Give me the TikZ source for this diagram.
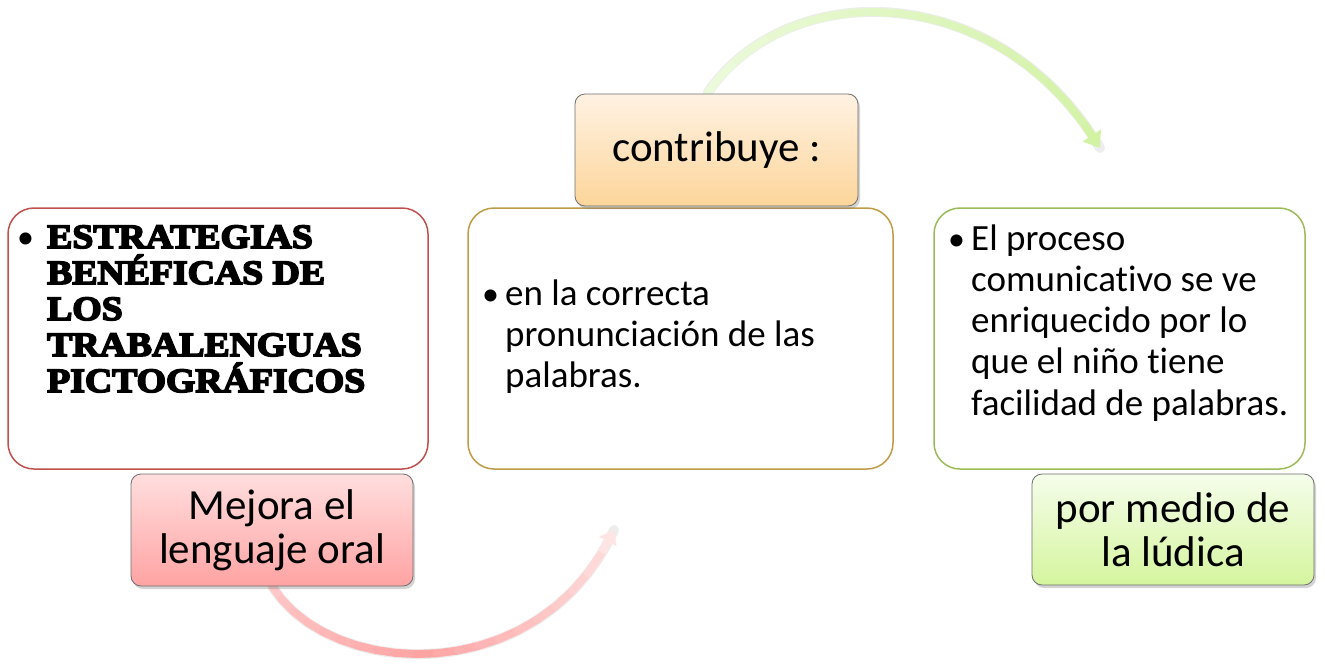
\documentclass[tikz,border=0pt]{standalone}
\usepackage{fontspec}
\setmainfont{Carlito}[Ligatures=NoCommon]
\newfontfamily\titlefont{Liberation Serif}[BoldFeatures={FakeBold=5,FakeStretch=1.11}]
\usetikzlibrary{shadows,arrows.meta}
\definecolor{redB}{HTML}{C0504D}
\definecolor{goldB}{HTML}{BF9B45}
\definecolor{greenB}{HTML}{9BBB59}
\definecolor{pinkT}{HTML}{FFDEDE}
\definecolor{pinkD}{HTML}{FFA3A3}
\definecolor{pinkL}{HTML}{FFE4E4}
\definecolor{peachT}{HTML}{FFF2E2}
\definecolor{peachD}{HTML}{FCD59A}
\definecolor{limeT}{HTML}{F5FDEA}
\definecolor{limeD}{HTML}{D5F59E}
\definecolor{greenL}{HTML}{ECFADC}
\definecolor{greenD}{HTML}{D2F2A4}
\definecolor{edgeG}{HTML}{6E6E6E}
\tikzset{
  natspace/.style={execute at begin node={\spaceskip=0pt\xspaceskip=0pt\relax}},
  bigbox/.style={draw, line width=1.5pt, rounded corners=26pt, fill=white, inner sep=0pt},
  labelbox/.style={draw=edgeG, line width=0.8pt, rounded corners=10pt, inner sep=0pt,
    drop shadow={opacity=0.35, shadow xshift=2pt, shadow yshift=-3pt},
    font=\fontsize{43pt}{44pt}\selectfont, align=center, natspace},
  bodytext/.style={anchor=base west, inner sep=0pt, align=left, natspace,
    font=\fontsize{37pt}{41.3pt}\selectfont},
  bulletmark/.style={anchor=base west, inner sep=0pt, font=\fontsize{34pt}{41pt}\selectfont},
  arcline/.style={line width=8pt, line cap=round},
  arcshadow/.style={line width=10pt, line cap=round, black, opacity=0.07}
}
\begin{document}
\begin{tikzpicture}[x=1pt,y=-1pt]
\useasboundingbox (0,0) rectangle (1325,665);

% ---- curved arrows (drawn first, under the boxes)
\coordinate (r0) at (272,586);
\coordinate (r1) at (330,680);
\coordinate (r2) at (540,690);
\coordinate (r3) at (614,530);
\coordinate (g0) at (708,92);
\coordinate (g1) at (790,-25);
\coordinate (g2) at (1000,-20);
\coordinate (g3) at (1100,148);

\draw[arcshadow, xshift=2pt, yshift=-3pt] (r0) .. controls (r1) and (r2) .. (r3);
\draw[arcshadow, xshift=2pt, yshift=-3pt] (g0) .. controls (g1) and (g2) .. (g3);

\foreach \i in {0,...,20}{
  \path (r0) .. controls (r1) and (r2) .. (r3) coordinate[pos=\i/20] (rp\i);
  \path (g0) .. controls (g1) and (g2) .. (g3) coordinate[pos=\i/20] (gp\i);
}
\foreach \i in {0,...,18}{
  \pgfmathtruncatemacro\j{\i+1}
  \pgfmathtruncatemacro\L{\i<=9 ? 55*(9-\i)/9 : 100*(\i-9)/11}
  \pgfmathtruncatemacro\G{100-100*\i/20}
  \draw[arcline, color=pinkL!\L!pinkD] (rp\i) -- (rp\j);
  \draw[arcline, color=greenL!\G!greenD] (gp\i) -- (gp\j);
}
\draw[arcline, line cap=butt, color=pinkL, -{Triangle[width=19pt,length=13pt]}] (rp19) -- (rp20);
\draw[arcline, line cap=butt, color=greenD, -{Triangle[width=21pt,length=15pt]}] (gp19) -- (gp20);

% ---- big boxes
\node[bigbox, draw=redB, minimum width=420pt, minimum height=261pt] (lbox) at (218,338.5) {};
\node[bigbox, draw=goldB, minimum width=425pt, minimum height=261pt] (mbox) at (680.5,338.5) {};
\node[bigbox, draw=greenB, minimum width=371pt, minimum height=261pt] (rbox) at (1119.5,338.5) {};

% ---- label boxes
\node[labelbox, top color=pinkT, bottom color=pinkD, minimum width=282pt, minimum height=112pt] (mejora) at (272,530) {Mejora el\\lenguaje oral};
\node[labelbox, top color=peachT, bottom color=peachD, minimum width=283pt, minimum height=112pt] (contrib) at (716.5,150) {contribuye :};
\node[labelbox, top color=limeT, bottom color=limeD, minimum width=282pt, minimum height=111pt] (medio) at (1173,529.5) {por medio de\\la lúdica};

% ---- texts
\node[bulletmark] (lb) at (17,248) {•};
\node[anchor=base west, inner sep=0pt, align=left, text width=380pt, natspace,
  font=\fontsize{34pt}{36pt}\titlefont\bfseries] (ltext) at (47,248)
  {ESTRATEGIAS\\BENÉFICAS DE\\LOS\\TRABALENGUAS\\PICTOGRÁFICOS};

\node[bulletmark] (mb) at (482,305) {•};
\node[bodytext, text width=400pt] (mtext) at (505,305)
  {en la correcta\\pronunciación de las\\palabras.};

\node[bulletmark] (rb) at (948,250) {•};
\node[bodytext, text width=340pt] (rtext) at (971,250)
  {El proceso\\comunicativo se ve\\enriquecido por lo\\que el niño tiene\\facilidad de palabras.};
\end{tikzpicture}
\end{document}
